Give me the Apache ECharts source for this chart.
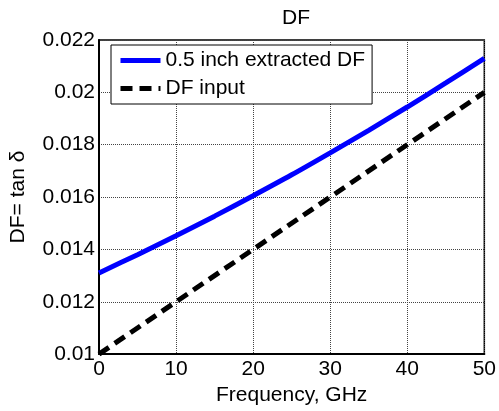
<!DOCTYPE html>
<html>
<head>
<meta charset="utf-8">
<script src="https://cdn.jsdelivr.net/npm/echarts@6/dist/echarts.min.js"></script>
<style>html,body{margin:0;padding:0;background:#fff;}#c{width:499px;height:411px;}</style>
</head>
<body>
<div id="c"></div>
<script>
var freq = [0, 5, 10, 15, 20, 25, 30, 35, 40, 45, 50];
var extractedDF = [0.0131, 0.01380, 0.01452, 0.01527, 0.01605, 0.01685, 0.01769, 0.01855, 0.01944, 0.02036, 0.0213];
var inputFreq = [0, 50];
var inputDF = [0.01, 0.02];
var seriesNames = ['0.5 inch extracted DF', 'DF input'];

var FONT = 'Liberation Sans, Arial, sans-serif';
var chart = echarts.init(document.getElementById('c'));
chart.setOption({
  animation: false,
  backgroundColor: '#fff',
  title: {
    text: 'DF', left: 291, top: 3, textAlign: 'center',
    textStyle: {fontFamily: FONT, fontSize: 21, fontWeight: 'normal', color: '#000'}
  },
  legend: {
    orient: 'vertical', left: 111, top: 45,
    padding: [5, 7, 5, 7], itemGap: 7, itemWidth: 40, itemHeight: 21, itemTextGap: 3,
    backgroundColor: '#fff', borderColor: '#000', borderWidth: 1,
    itemStyle: {opacity: 0},
    lineStyle: {width: 5},
    textStyle: {fontFamily: FONT, fontSize: 21, color: '#000'},
    data: seriesNames
  },
  grid: {left: 96, right: 13, top: 40, bottom: 56, show: true, borderColor: '#000', borderWidth: 1.5, backgroundColor: 'transparent'},
  xAxis: {
    type: 'value', min: 0, max: 50, interval: 10,
    name: 'Frequency, GHz', nameLocation: 'middle', nameGap: 27,
    nameTextStyle: {fontFamily: FONT, fontSize: 21, color: '#000'},
    axisLine: {lineStyle: {color: '#000', width: 2}},
    axisTick: {show: false},
    axisLabel: {fontFamily: FONT, fontSize: 21, color: '#000', margin: 5},
    splitLine: {lineStyle: {color: '#444', type: 'dotted', width: 1}}
  },
  yAxis: {
    type: 'value', min: 0.01, max: 0.022, interval: 0.002,
    name: 'DF= tan δ', nameLocation: 'middle', nameGap: 70,
    nameTextStyle: {fontFamily: FONT, fontSize: 21, color: '#000'},
    axisLine: {show: true, lineStyle: {color: '#000', width: 2}},
    axisTick: {show: false},
    axisLabel: {fontFamily: FONT, fontSize: 21, color: '#000', margin: 4,
      formatter: function (v) { return String(parseFloat(v.toFixed(3))); }},
    splitLine: {lineStyle: {color: '#444', type: 'dotted', width: 1}}
  },
  series: [
    {
      name: seriesNames[0], type: 'line', symbol: 'none', smooth: 0.3,
      data: freq.map(function (f, i) { return [f, extractedDF[i]]; }),
      lineStyle: {color: '#0000ff', width: 5}, itemStyle: {color: '#0000ff'}
    },
    {
      name: seriesNames[1], type: 'line', symbol: 'none',
      data: inputFreq.map(function (f, i) { return [f, inputDF[i]]; }),
      lineStyle: {color: '#000', width: 5, type: [12, 7]}, itemStyle: {color: '#000'}
    }
  ]
});
</script>
</body>
</html>
